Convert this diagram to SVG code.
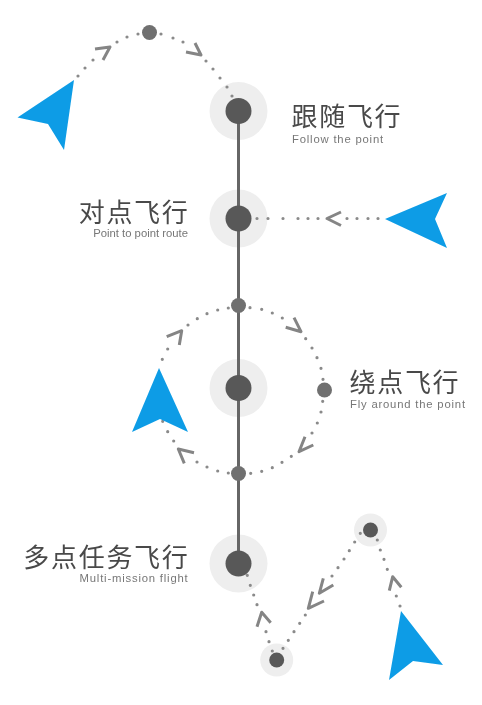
<svg xmlns="http://www.w3.org/2000/svg" width="482" height="705" viewBox="0 0 482 705">
<defs><filter id="soft" x="0" y="0" width="100%" height="100%"><feGaussianBlur stdDeviation="0.4"/></filter></defs>
<style>
.halo{fill:#eeeeee}
.core{fill:#595959}
.way{fill:#707070}
.spine{stroke:#666;stroke-width:3;fill:none}
.dots{stroke:#8a8a8a;stroke-width:3.2;stroke-linecap:round;fill:none}
.chev{stroke:#858585;stroke-width:3;fill:none;stroke-linejoin:round}
.uav{fill:#0d9ce6}
.cn{font-family:"Noto Sans CJK SC","Noto Sans",sans-serif;font-size:26px;letter-spacing:1.700px;font-weight:400;fill:#4a4a4a}
.en{font-family:"Liberation Sans",Arial,sans-serif;font-size:11.300px;fill:#777}
.wide{letter-spacing:.8px}
.r{text-anchor:end}
</style>
<rect width="482" height="705" fill="#fff"/>
<g filter="url(#soft)">
<g id="halos">
<circle class="halo" cx="238.500" cy="111" r="29"/>
<circle class="halo" cx="238.500" cy="218.500" r="29"/>
<circle class="halo" cx="238.500" cy="388" r="29"/>
<circle class="halo" cx="238.500" cy="563.500" r="29"/>
<circle class="halo" cx="276.700" cy="660" r="16.500"/>
<circle class="halo" cx="370.500" cy="530" r="16.500"/>
</g>
<g id="connectors">
<path class="spine" d="M238.500 111V563"/>
<path class="dots" d="M78 76h0M85 68h0M93 60h0M117 42h0M127 37h0M138 34h0M161 34h0M173 38h0M183 42h0M206 61h0M213 69h0M220 78h0M227 87h0M232 96h0"/>
<path class="chev" d="M95 49L110 47L103 60M186 52L201 55L195 43"/>
<path class="dots" d="M257 218.500h0M268 218.500h0M283 218.500h0M298 218.500h0M308 218.500h0M318 218.500h0M347 218.500h0M357 218.500h0M368 218.500h0M378 218.500h0"/>
<path class="chev" d="M341 212L327 218.500L341 225.500"/>
<path class="dots" d="M250 307.700h0M261.700 309.300h0M272.300 313h0M282.300 318h0M305.700 338.700h0M312 348h0M317 357.700h0M321 368.300h0M323 379.300h0M322.700 401.300h0M321 412h0M317.300 423h0M312 433h0M291.300 456.300h0M282 462.300h0M272.300 467.700h0M261.700 471.300h0M250.700 473.300h0M228.300 473h0M217.700 471h0M207 467h0M197 462h0M173.700 441h0M167.700 431.700h0M162.700 421.300h0M162.300 359.300h0M167.700 349h0M188 325h0M197.300 318.700h0M207 313.700h0M217.700 310h0M228.300 308h0"/>
<path class="chev" d="M285.700 327.300L301 331.700L294 317.700M313.300 445L299 451.700L305 436.700M194 452.700L178.300 449L184.300 463.300M166.700 336.700L181.700 330.700L179.300 345"/>
<path class="dots" d="M247.300 575.300h0M250.300 585.300h0M253.700 595h0M257 604.700h0M266 631.700h0M269 641.700h0M272.300 651h0M283 648.300h0M288.300 640.300h0M294 631.700h0M299.700 623.300h0M305.300 615h0M332 576h0M338 567.700h0M344 559h0M349.300 550.700h0M354.700 542h0M360.300 533.300h0M377.300 540h0M380.300 550h0M384 559.300h0M387.300 569.300h0M396.300 596h0M400 606h0"/>
<path class="chev" d="M257 626.700L261.700 612.300L270.700 622.700M324 601L308.300 608.300L312.700 591.700M333.300 585L319.300 593.300L323.300 578.300M389.300 590.700L392.700 576.700L401.300 587.300"/>
</g>
<g id="node-follow">
<circle class="core" cx="238.500" cy="111" r="13"/>
<text class="cn" x="291.500" y="125.500">跟随飞行</text>
<text class="en wide" x="292" y="143">Follow the point</text>
</g>
<g id="node-p2p">
<circle class="core" cx="238.500" cy="218.500" r="13"/>
<text class="cn r" x="189.500" y="221.500">对点飞行</text>
<text class="en r" x="188" y="236.500">Point to point route</text>
</g>
<g id="node-orbit">
<circle class="core" cx="238.500" cy="388" r="13"/>
<text class="cn" x="349.500" y="392">绕点飞行</text>
<text class="en wide" x="350" y="408">Fly around the point</text>
</g>
<g id="node-multi">
<circle class="core" cx="238.500" cy="563.500" r="13"/>
<text class="cn r" x="189.500" y="567">多点任务飞行</text>
<text class="en r wide" x="188.500" y="581.500">Multi-mission flight</text>
</g>
<g id="waypoints">
<circle class="way" cx="149.500" cy="32.500" r="7.500"/>
<circle class="way" cx="238.500" cy="305.500" r="7.500"/>
<circle class="way" cx="238.500" cy="473.500" r="7.500"/>
<circle class="way" cx="324.500" cy="390" r="7.500"/>
<circle class="core" cx="276.700" cy="660" r="7.500"/>
<circle class="core" cx="370.500" cy="530" r="7.500"/>
</g>
<g id="uavs">
<polygon class="uav" points="74,80 17.500,117.500 48,124 64,150"/>
<polygon class="uav" points="447,193 385,219 447,248 435,219"/>
<polygon class="uav" points="159,368 132,432 160,419 188,432"/>
<polygon class="uav" points="401,611 389,680 413,661 443,665"/>
</g>
</g>
</svg>
